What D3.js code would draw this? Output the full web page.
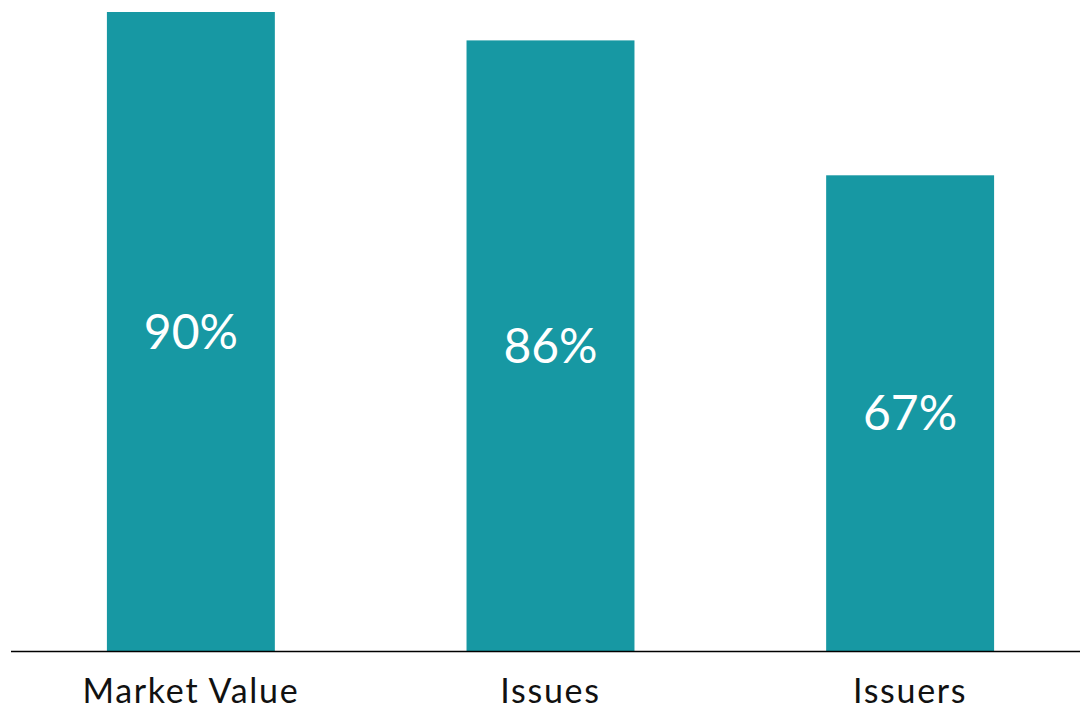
<!DOCTYPE html>
<html>
<head>
<meta charset="utf-8">
<script src="https://cdn.jsdelivr.net/npm/d3@7"></script>
<style>
  body { margin: 0; background: #fff; }
  svg { display: block; }
</style>
</head>
<body>
<svg id="chart" width="1080" height="711"></svg>
<script>
(function () {
    var width = 1080, height = 711

    // data
    const categories = ["Market Value", "Issues", "Issuers"];
    const values = [90, 86, 67];
    const labels = ["90%", "86%", "67%"];

    const data = categories.map((c, i) => ({ cat: c, value: values[i], label: labels[i] }));

    const svg = d3.select("#chart");

    var x = d3.scaleBand()
        .domain(categories)
        .range([17, 1084])
        .paddingInner(0.533)
        .paddingOuter(0.25);

    var y = d3.scaleLinear()
        .domain([0, 90])
        .range([651, 12]);

    //bars
    svg.append("g")
        .selectAll("rect")
        .data(data)
        .join("rect")
        .attr("x", d => x(d.cat))
        .attr("y", d => y(d.value))
        .attr("width", x.bandwidth())
        .attr("height", d => y(0) - y(d.value))
        .attr("fill", "#1798a3");

    //value labels, centred in the bar
    svg.append("g")
        .selectAll("text")
        .data(data)
        .join("text")
        .attr("x", d => x(d.cat) + x.bandwidth() / 2)
        .attr("y", d => (y(d.value) + y(0)) / 2)
        .attr("dy", "0.36em")
        .attr("text-anchor", "middle")
        .attr("font-family", "Lato, 'Noto Sans', sans-serif")
        .attr("font-size", 48)
        .attr("fill", "#fff")
        .text(d => d.label);

    //baseline
    svg.append("line")
        .attr("x1", 11).attr("x2", 1080)
        .attr("y1", y(0) + 0.5).attr("y2", y(0) + 0.5)
        .attr("stroke", "#000")
        .attr("stroke-width", 1.5);

    //category labels
    svg.append("g")
        .selectAll("text")
        .data(categories)
        .join("text")
        .attr("x", d => x(d) + x.bandwidth() / 2)
        .attr("y", 703)
        .attr("text-anchor", "middle")
        .attr("font-family", "Lato, 'Noto Sans', sans-serif")
        .attr("font-size", 34)
        .attr("letter-spacing", 1.7)
        .attr("fill", "#111")
        .text(d => d);
})();
</script>
</body>
</html>
